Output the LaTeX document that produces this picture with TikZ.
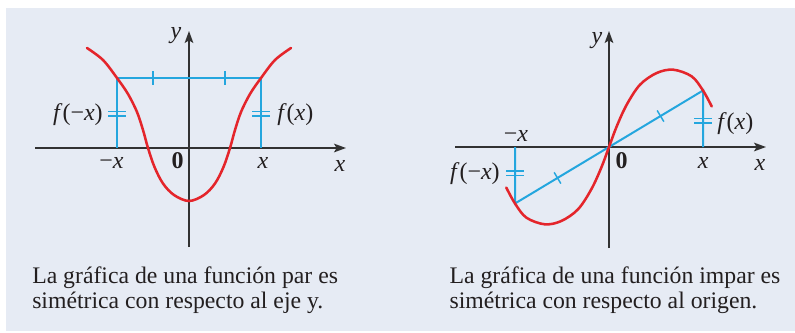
\documentclass[tikz,border=0pt]{standalone}
\usepackage{fontspec}
\setmainfont{Liberation Serif}
\usetikzlibrary{arrows.meta,decorations.markings}
\definecolor{bgc}{RGB}{230,235,244}
\definecolor{redc}{RGB}{228,37,43}
\definecolor{bluec}{RGB}{36,166,222}
\definecolor{axc}{RGB}{50,50,50}
\definecolor{txc}{RGB}{35,31,32}
\tikzset{
  axisline/.style={draw=axc,line width=1.1pt,-{Stealth[length=9pt,width=6.5pt,inset=2pt]}},
  curveline/.style={draw=redc,line width=1.9pt,line cap=round,line join=round},
  guideline/.style={draw=bluec,line width=1.5pt,line join=miter},
  tickpen/.style={draw=bluec,line width=1.1pt},
  onetick/.style={postaction={decorate,decoration={markings,mark=at position #1 with {\draw[tickpen] (0pt,-4.9pt)--(0pt,4.9pt);}}}},
  twotick/.style={postaction={decorate,decoration={markings,mark=at position #1 with {\draw[tickpen] (-1.6pt,-6.4pt)--(-1.6pt,6.4pt) (1.6pt,-6.4pt)--(1.6pt,6.4pt);}}}},
  lbl/.style={text=txc,inner sep=0pt,font=\fontsize{18}{19}\selectfont},
  captxt/.style={text=txc,inner sep=0pt,align=left,anchor=north west,font=\fontsize{17.8}{18.75}\selectfont}
}
\begin{document}
\begin{tikzpicture}[x=0.75pt,y=-0.75pt]
\useasboundingbox (0,0) rectangle (795,332);
\fill[bgc] (6,8) rectangle (795,331);

% ---------- left graph (even function) ----------
\coordinate (Lxs) at (35,148);
\coordinate (Lxe) at (346,148);
\coordinate (Lys) at (189,247);
\coordinate (Lye) at (189,31);
\draw[axisline] (Lxs) -- (Lxe);
\draw[axisline] (Lys) -- (Lye);

\coordinate (La) at (117,148);
\coordinate (Lb) at (117,78);
\coordinate (Lc) at (261,78);
\coordinate (Ld) at (261,148);
\draw[guideline,twotick=0.1204,onetick=0.373,onetick=0.627,twotick=0.8796]
  (La) -- (Lb) -- (Lc) -- (Ld);

\draw[curveline] plot[smooth,tension=0.55] coordinates {
  (87,48) (103,60) (117,78) (128,94) (137,112) (143,130) (148,148)
  (154.5,167) (163,183.5) (174,195) (189,201) (204,195) (215,183.5)
  (223.5,167) (230,148) (235,130) (241,112) (250,94) (261,78) (275,60) (291,48)};

\node[lbl,anchor=base] (Lylab) at (176,38.5) {\textit{y}};
\node[lbl,anchor=base] (Lxlab) at (340,171) {\textit{x}};
\node[lbl,anchor=base] (Lzero) at (177.5,168) {\textbf{0}};
\node[lbl,anchor=base] (Lmx) at (111.5,168) {−\textit{x}};
\node[lbl,anchor=base] (Lpx) at (263,168) {\textit{x}};
\node[lbl,anchor=east] (Lfmx) at (103,115) {\textit{f}(−\textit{x})};
\node[lbl,anchor=west] (Lfx) at (277,115) {\textit{f}(\textit{x})};

\node[captxt] (Lcap) at (32,267) {La gráfica de una función par es\\simétrica con respecto al eje y.};

% ---------- right graph (odd function) ----------
\coordinate (Rxs) at (455,147);
\coordinate (Rxe) at (766,147);
\coordinate (Rys) at (609,248);
\coordinate (Rye) at (609,31);
\draw[axisline] (Rxs) -- (Rxe);
\draw[axisline] (Rys) -- (Rye);

\coordinate (Ra) at (515,147);
\coordinate (Rb) at (515,203.5);
\coordinate (Rc) at (703,90.5);
\coordinate (Rd) at (703,147);
\draw[guideline,twotick=0.0791,onetick=0.3192,onetick=0.6808,twotick=0.9212]
  (Ra) -- (Rb) -- (Rc) -- (Rd);

\draw[curveline] plot[smooth,tension=0.55] coordinates {
  (506.3,187.6) (515,203.5) (526.3,217.6) (544.7,224.3) (561.3,221)
  (578,209.3) (591.3,189.3) (601.3,167.6) (609,147) (616.7,126.4)
  (626.7,104.7) (640,84.7) (656.7,73) (673.3,69.7) (691.7,76.4)
  (703,90.5) (711.7,106.4)};

\node[lbl,anchor=base] (Rylab) at (597,43.5) {\textit{y}};
\node[lbl,anchor=base] (Rxlab) at (760,170) {\textit{x}};
\node[lbl,anchor=base] (Rzero) at (621.7,168) {\textbf{0}};
\node[lbl,anchor=base] (Rpx) at (703.3,168) {\textit{x}};
\node[lbl,anchor=base] (Rmx) at (516,141.5) {−\textit{x}};
\node[lbl,anchor=west] (Rfx) at (717,124) {\textit{f}(\textit{x})};
\node[lbl,anchor=east] (Rfmx) at (500,174) {\textit{f}(−\textit{x})};

\node[captxt] (Rcap) at (449.3,267) {La gráfica de una función impar es\\simétrica con respecto al origen.};
\end{tikzpicture}
\end{document}
